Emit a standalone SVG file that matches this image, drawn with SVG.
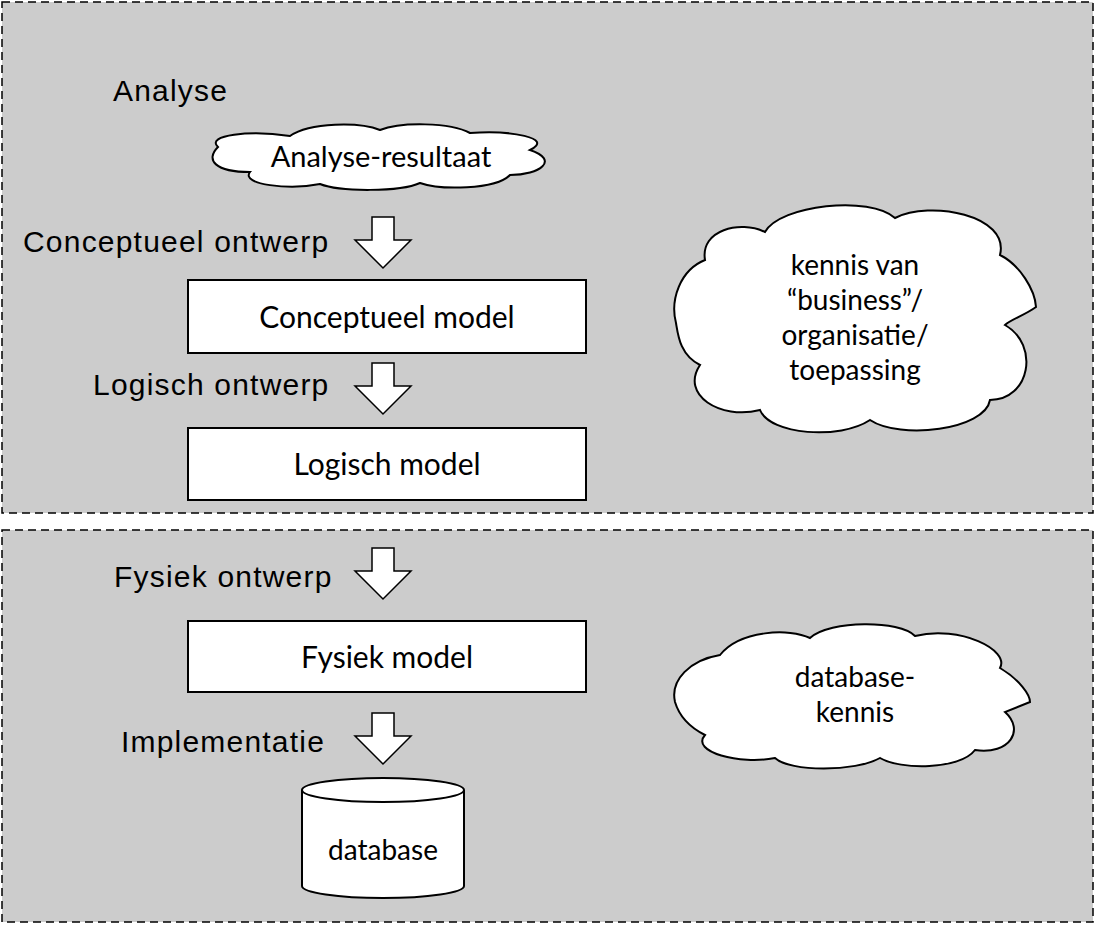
<svg xmlns="http://www.w3.org/2000/svg" width="1096" height="926" viewBox="0 0 1096 926">
<style>
.panel{fill:#cccccc;stroke:#000;stroke-width:1.5;stroke-dasharray:8 5}
.shape{fill:#fff;stroke:#000;stroke-width:2}
.lbl{font-family:"Liberation Sans",Arial,sans-serif;font-size:30px;letter-spacing:1.2px;fill:#000}
.txt{font-family:Lato,"Open Sans",sans-serif;font-size:28px;fill:#000;text-anchor:middle}
.box{font-size:30px}
</style>
<defs>
<path id="arr" d="M-11,0 H11 V23 H28 L0,51 L-28,23 H-11 Z"/>
</defs>
<rect class="panel" x="2" y="2" width="1091" height="511"/>
<rect class="panel" x="2" y="530" width="1091" height="392"/>
<g id="connectors">
<use href="#arr" x="383" y="217" class="shape" style="stroke-width:1.5"/>
<use href="#arr" x="383" y="363" class="shape" style="stroke-width:1.5"/>
<use href="#arr" x="383" y="548" class="shape" style="stroke-width:1.5"/>
<use href="#arr" x="383" y="713" class="shape" style="stroke-width:1.5"/>
</g>
<g id="labels">
<text class="lbl" x="113" y="101">Analyse</text>
<text class="lbl" x="23" y="252">Conceptueel ontwerp</text>
<text class="lbl" x="93" y="395">Logisch ontwerp</text>
<text class="lbl" x="114" y="587">Fysiek ontwerp</text>
<text class="lbl" x="121" y="752">Implementatie</text>
</g>
<g id="analyse-resultaat">
<path class="shape" d="M218,147 C205,135 250,130 290,136 C310,122 360,122 380,130 C400,122 450,122 470,133 C510,130 555,138 530,150 C560,160 540,175 510,175 C495,190 440,190 420,183 C400,192 340,192 320,184 C290,190 240,185 250,172 C215,172 205,160 218,147 Z"/>
<text class="txt" x="381" y="167" style="font-size:29px">Analyse-resultaat</text>
</g>
<g id="conceptueel-model">
<rect class="shape" x="188" y="280" width="398" height="73"/>
<text class="txt box" x="387" y="328">Conceptueel model</text>
</g>
<g id="logisch-model">
<rect class="shape" x="188" y="428" width="398" height="72"/>
<text class="txt box" x="387" y="475">Logisch model</text>
</g>
<g id="fysiek-model">
<rect class="shape" x="188" y="621" width="398" height="71"/>
<text class="txt box" x="387" y="668">Fysiek model</text>
</g>
<g id="database">
<path class="shape" d="M302,790 V886 A81,12 0 0 0 464,886 V790 A81,12 0 0 0 302,790 A81,12 0 0 0 464,790"/>
<text class="txt" x="383" y="860">database</text>
</g>
<g id="kennis-business">
<path class="shape" d="M676,323 C670,300 680,270 705,260 C700,230 740,220 765,232 C780,205 870,195 895,218 C930,200 1010,215 1000,255 C1020,265 1035,290 1036,307 C1025,315 1010,320 1005,325 C1040,345 1030,400 990,400 C985,430 900,440 870,420 C840,440 770,435 760,410 C720,420 680,395 700,365 C680,355 678,335 676,323 Z"/>
<text class="txt" x="855" y="275">kennis van</text>
<text class="txt" x="855" y="310">“business”/</text>
<text class="txt" x="855" y="345">organisatie/</text>
<text class="txt" x="855" y="380">toepassing</text>
</g>
<g id="database-kennis">
<path class="shape" d="M675,702 C670,680 690,660 720,655 C740,630 790,628 810,638 C830,620 900,620 915,636 C960,625 1010,650 1000,668 C1020,680 1030,695 1030,702 C1020,706 1010,710 1005,712 C1025,730 1010,755 975,750 C960,770 900,770 880,758 C855,772 790,772 775,758 C740,765 690,752 705,735 C685,725 678,712 675,702 Z"/>
<text class="txt" x="855" y="687">database-</text>
<text class="txt" x="855" y="722">kennis</text>
</g>
</svg>
